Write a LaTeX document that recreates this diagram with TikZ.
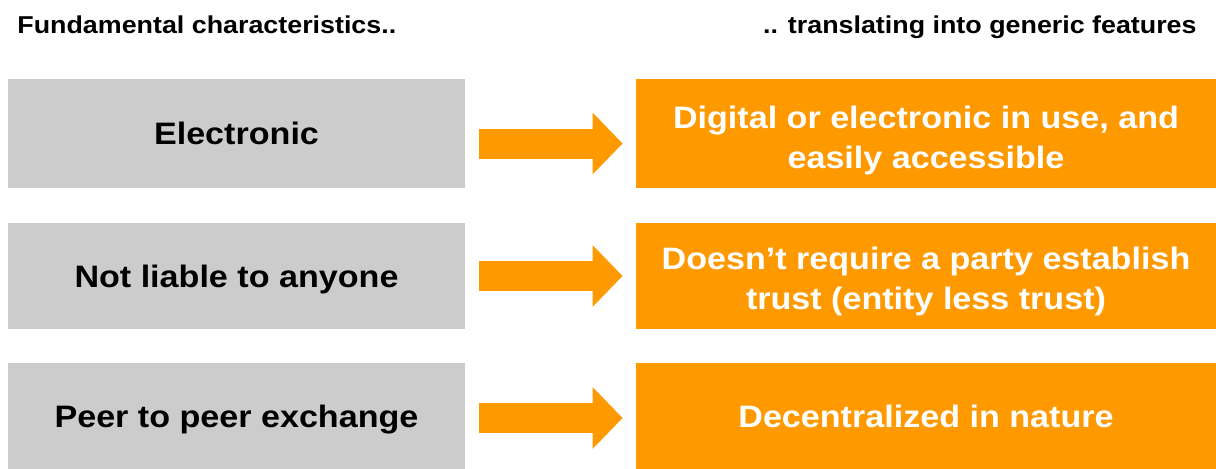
\documentclass[tikz,border=0pt]{standalone}
\usepackage{fontspec}
\setmainfont{Liberation Sans}[FakeStretch=1.1]
\usetikzlibrary{arrows.meta}
\definecolor{featorange}{HTML}{FF9900}
\definecolor{chargray}{HTML}{CCCCCC}
\tikzstyle{headtext}=[inner sep=0pt, font=\bfseries\fontsize{12.2}{14}\selectfont]
\tikzstyle{charbox}=[
    fill=chargray,
    minimum width=228.5pt, minimum height=53pt,
    inner sep=0pt, text height=11pt, text depth=0pt,
    font=\bfseries\fontsize{15.5}{20}\selectfont,
]
\tikzstyle{featbox}=[
    fill=featorange, text=white,
    minimum width=290pt, minimum height=53pt,
    inner sep=0pt, align=center, text depth=0pt,
    font=\bfseries\fontsize{15.5}{20}\selectfont,
]
\tikzstyle{featarrow}=[
    draw=featorange, line width=15pt,
    -{Triangle[length=15pt,width=30pt]},
    shorten <=7pt, shorten >=6.5pt,
]
\begin{document}
\begin{tikzpicture}
    \useasboundingbox (0,0) rectangle (608pt,-234pt);
    \node[headtext, anchor=base west] (headl) at (8.5pt,-16.5pt) {Fundamental characteristics..};
    \node[headtext, anchor=base east] (headr) at (598.5pt,-16.5pt) {.. translating into generic features};
    % left column
    \node[charbox, minimum height=54.5pt] (char1) at (118.25pt,-66.75pt) {Electronic};
    \node[charbox] (char2) at (118.25pt,-138pt) {Not liable to anyone};
    \node[charbox] (char3) at (118.25pt,-208pt) {Peer to peer exchange};
    % right column
    \node[featbox, minimum height=54.5pt] (feat1) at (463pt,-66.75pt) {\rule{0pt}{15pt}Digital or electronic in use, and\\easily accessible};
    \node[featbox] (feat2) at (463pt,-138pt) {\rule{0pt}{13pt}Doesn’t require a party establish\\trust (entity less trust)};
    \node[featbox, text height=11pt] (feat3) at (463pt,-208pt) {Decentralized in nature};
    \draw[featarrow] ([yshift=-5pt]char1.east) -- ([yshift=-5pt]feat1.west);
    \draw[featarrow] (char2) -- (feat2);
    \draw[featarrow] ([yshift=-1pt]char3.east) -- ([yshift=-1pt]feat3.west);
\end{tikzpicture}
\end{document}
